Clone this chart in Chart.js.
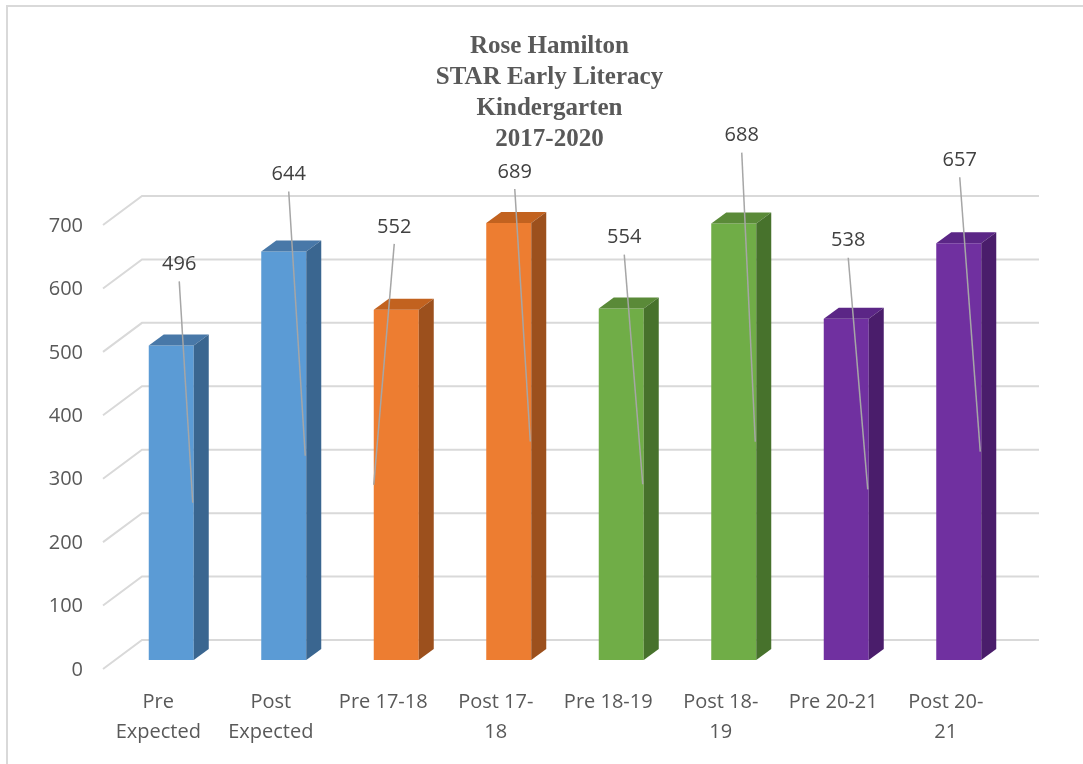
<!DOCTYPE html>
<html>
<head>
<meta charset="utf-8">
<title>Rose Hamilton STAR Early Literacy</title>
<script src="https://cdn.jsdelivr.net/npm/chart.js@4.4.0/dist/chart.umd.min.js"></script>
<style>
  html, body { margin: 0; padding: 0; background: #fff; }
  #wrap { position: relative; width: 1083px; height: 764px; overflow: hidden; }
  #frame { position: absolute; left: 6px; top: 5px; width: 1200px; height: 900px; border: 2px solid #d9d9d9; }
  #c { position: absolute; left: 0; top: 0; }
</style>
</head>
<body>
<div id="wrap">
  <div id="frame"></div>
  <canvas id="c" width="1083" height="764"></canvas>
</div>
<script>
// chart data
const titleLines = ['Rose Hamilton', 'STAR Early Literacy', 'Kindergarten', '2017-2020'];
const categories = [
  ['Pre', 'Expected'], ['Post', 'Expected'], 'Pre 17-18', ['Post 17-', '18'],
  'Pre 18-19', ['Post 18-', '19'], 'Pre 20-21', ['Post 20-', '21']
];
const scores = [496, 644, 552, 689, 554, 688, 538, 657];
const yTicks = [0, 100, 200, 300, 400, 500, 600, 700];

// colours: front face, right side, top
const frontColors = ['#5b9bd5', '#5b9bd5', '#ed7d31', '#ed7d31', '#70ad47', '#70ad47', '#7030a0', '#7030a0'];
const sideColors  = ['#3a6690', '#3a6690', '#9c501d', '#9c501d', '#47722c', '#47722c', '#4a1d6b', '#4a1d6b'];
const topColors   = ['#4878a8', '#4878a8', '#c2621f', '#c2621f', '#5a8a38', '#5a8a38', '#5b2686', '#5b2686'];

// where each data label was dragged to, relative to its bar top (px)
const labelDx   = [8, 5, -2, 6, 3, 8, 2, 1];
const labelLift = [83, 79, 85, 53, 73, 90, 80, 85];

const GRID = '#d9d9d9';
const TEXT = '#595959';
const DX = 15, DY = 11;   // bar depth

// 3d-ish wall gridlines, drawn behind the bars
const wallGrid = {
  id: 'wallGrid',
  beforeDatasetsDraw(chart) {
    const ctx = chart.ctx, ys = chart.scales.y;
    const { left, right } = chart.chartArea;
    ctx.save();
    ctx.strokeStyle = GRID;
    ctx.lineWidth = 2;
    ys.ticks.forEach(t => {
      const py = ys.getPixelForValue(t.value);
      ctx.beginPath();
      ctx.moveTo(left - 12, py + 9);
      ctx.lineTo(left + 27, py - 20);
      ctx.lineTo(right + 24, py - 20);
      ctx.stroke();
    });
    ctx.restore();
  }
};

// top + side faces of each bar, then labels with leader lines
const bars3d = {
  id: 'bars3d',
  afterDatasetsDraw(chart) {
    const ctx = chart.ctx, ys = chart.scales.y;
    const meta = chart.getDatasetMeta(0);
    ctx.save();
    meta.data.forEach((bar, i) => {
      const { x, y, base, width } = bar.getProps(['x', 'y', 'base', 'width'], true);
      const l = x - width / 2, r = x + width / 2;
      ctx.fillStyle = topColors[i];
      ctx.beginPath();
      ctx.moveTo(l, y); ctx.lineTo(l + DX, y - DY); ctx.lineTo(r + DX, y - DY); ctx.lineTo(r, y);
      ctx.closePath(); ctx.fill();
      ctx.fillStyle = sideColors[i];
      ctx.beginPath();
      ctx.moveTo(r, y); ctx.lineTo(r + DX, y - DY); ctx.lineTo(r + DX, base - DY); ctx.lineTo(r, base);
      ctx.closePath(); ctx.fill();
    });
    // data labels + leader lines to the middle of the bar
    ctx.font = '20px "Open Sans", sans-serif';
    ctx.textAlign = 'center';
    ctx.textBaseline = 'middle';
    meta.data.forEach((bar, i) => {
      const { x, y, width } = bar.getProps(['x', 'y', 'width'], true);
      const lx = x + labelDx[i], ly = y - labelLift[i] + 2;
      const ex = labelDx[i] < 0 ? x - width / 2 : x + width / 2 - 1;
      ctx.strokeStyle = '#a6a6a6';
      ctx.lineWidth = 1.5;
      ctx.beginPath();
      ctx.moveTo(lx, ly + 17);
      ctx.lineTo(ex, ys.getPixelForValue(scores[i] / 2));
      ctx.stroke();
      ctx.fillStyle = '#404040';
      ctx.fillText(String(scores[i]), lx, ly);
    });
    ctx.restore();
  }
};

new Chart(document.getElementById('c'), {
  type: 'bar',
  data: {
    labels: categories,
    datasets: [{
      data: scores,
      backgroundColor: frontColors,
      borderWidth: 0,
      barPercentage: 0.4,
      categoryPercentage: 1
    }]
  },
  options: {
    responsive: false,
    animation: false,
    layout: { padding: { left: 40, right: 24, top: 0, bottom: 0 } },
    plugins: {
      legend: { display: false },
      tooltip: { enabled: false },
      title: {
        display: true,
        text: titleLines,
        color: TEXT,
        font: { family: '"Liberation Serif", "Times New Roman", serif', size: 25, weight: 'bold', lineHeight: 1.24 },
        padding: { top: 31, bottom: 61 }
      }
    },
    scales: {
      x: {
        grid: { display: false, drawTicks: false },
        border: { display: false },
        ticks: {
          color: TEXT,
          font: { family: '"Open Sans", sans-serif', size: 20, lineHeight: 1.5 },
          padding: 27,
          labelOffset: -13,
          autoSkip: false,
          maxRotation: 0
        },
        afterFit(s) { s.height = 104; }
      },
      y: {
        min: 0,
        max: 700,
        afterBuildTicks(s) { s.ticks = yTicks.map(v => ({ value: v })); },
        grid: { display: false, drawTicks: false },
        border: { display: false },
        ticks: {
          color: TEXT,
          font: { family: '"Open Sans", sans-serif', size: 20 },
          padding: 32,
          labelOffset: 10
        },
        afterFit(s) { s.width = 75; }
      },
      // empty right-hand axis: keeps room for the back wall
      yRight: {
        position: 'right',
        min: 0,
        max: 700,
        grid: { display: false, drawTicks: false },
        border: { display: false },
        ticks: { display: false },
        afterFit(s) { s.width = 44; }
      }
    }
  },
  plugins: [wallGrid, bars3d]
});
</script>
</body>
</html>
